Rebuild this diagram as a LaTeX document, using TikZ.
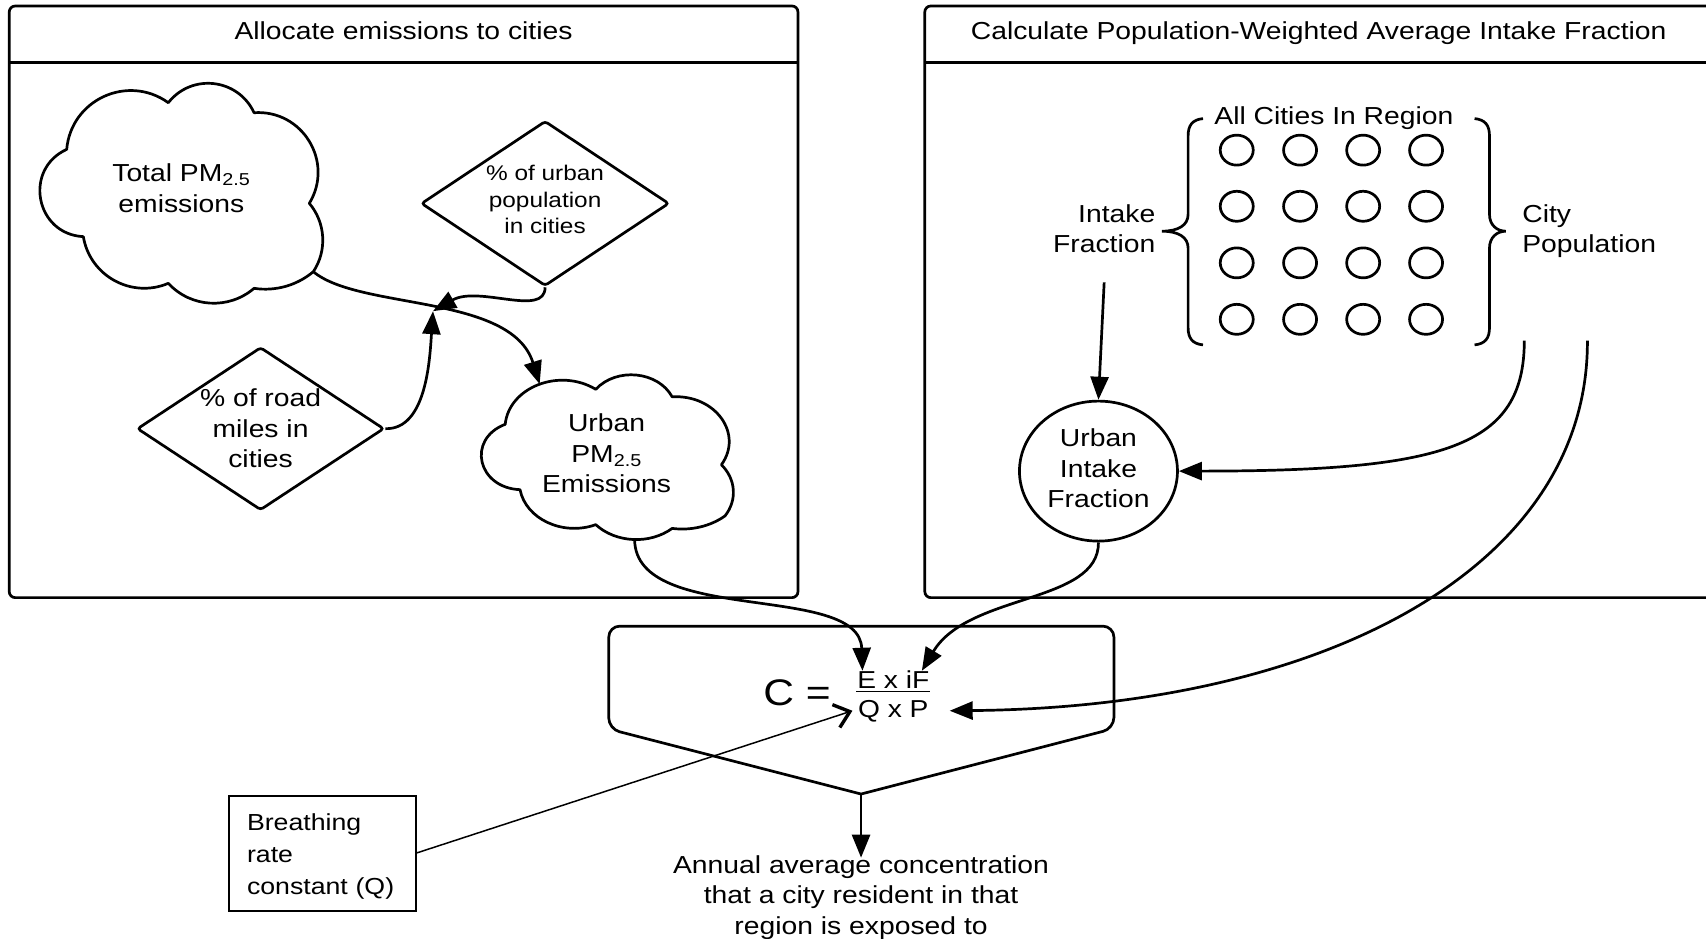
\documentclass[tikz,border=0pt]{standalone}
\usepackage{fontspec}
\setmainfont{Liberation Sans}[FakeStretch=1.15]
\usetikzlibrary{shapes.geometric,arrows.meta,calc}
\newcommand\fsz[2]{\fontsize{#1}{#2}\selectfont}
\newcommand\mycloudpath{(61.3,137.3) .. controls (65.26,91.61) and (117.47,67.63) .. (154.7,94.4)
 .. controls (176.14,67.01) and (218.94,72.01) .. (233.5,103.6)
 .. controls (277.93,100.51) and (307.39,148.81) .. (284.3,186.9)
 .. controls (299.3,204.67) and (300.81,230.3) .. (288,249.7)
 .. controls (272.91,262.4) and (253,267.99) .. (233.5,265)
 .. controls (210.3,284.93) and (175.43,282.9) .. (154.7,260.4)
 .. controls (120.99,274.74) and (82.57,253.64) .. (76.6,217.5)
 .. controls (32.61,215.28) and (21.22,155.57) .. (61.3,137.3) -- cycle}
\begin{document}
\begin{tikzpicture}[x=1.088pt,y=-1.088pt,
  every node/.style={inner sep=0pt},
  lw/.style={line width=2.7pt},
  body/.style={font=\fsz{24.6}{30.5}, align=center},
  small/.style={font=\fsz{21.2}{26.7}, align=center},
  conn/.style={line width=2.7pt, -{Triangle[length=23pt,width=18pt]}},
  panel/.style={draw, line width=2.7pt, rounded corners=6pt},
  dia/.style={draw, diamond, line width=2.7pt, rounded corners=3pt},
]
\useasboundingbox (0,0) rectangle (1568,863);

% panels
\draw[panel] (8.5,5.5) rectangle (733.4,549.3);
\draw[lw] (8.5,57.3) -- (733.4,57.3);
\node[body] (t1) at (370.9,28) {Allocate emissions to cities};
\draw[panel] (850,5.5) rectangle (1600,549.3);
\draw[lw] (850,57.3) -- (1600,57.3);
\node[body, anchor=base] (t2) at (1212,36.1) {Calculate Population-Weighted Average Intake Fraction};

% clouds (drawn outlines) and their texts
\draw[lw, line join=round] \mycloudpath;
\begin{scope}[shift={(409.71,287.1)}, xscale=0.8911, yscale=0.7493]
  \draw[lw, line join=round] \mycloudpath;
\end{scope}
\node[body] (c1) at (166.7,173.1) {Total PM\textsubscript{2.5}\\emissions};
\node[body] (c2) at (557.5,417) {Urban\\PM\textsubscript{2.5}\\Emissions};
\coordinate (c1out) at (288,249.7);
\coordinate (c2in) at (496,353);
\coordinate (c2out) at (583.3,496.5);

% diamonds
\node[dia, minimum width=248pt, minimum height=165pt,
  label={[small,yshift=3.8pt]center:{\% of urban\\population\\in cities}}] (d1) at (501,187) {};
\node[dia, minimum width=247pt, minimum height=163pt,
  label={[body]center:{\% of road\\miles in\\cities}}] (d2) at (239.5,394) {};
\coordinate (mix) at (398,286);

\draw[conn] (c1out) .. controls (330,285) and (470,270) .. (c2in);
\draw[conn] (d1.south) .. controls (501,292) and (440,262) .. (mix);
\draw[conn] (d2.east) .. controls (392,395) and (395,330) .. (mix);

% right panel
\node[body, anchor=base] (ac) at (1226,114.1) {All Cities In Region};
\foreach \x in {1136.7,1194.9,1252.9,1310.7}
  \foreach \y in {138,189.6,241.6,293.5}
    \draw[lw] (\x,\y) ellipse [x radius=16.5pt, y radius=15pt];
\draw[lw] (1105.7,109) .. controls (1096,110) and (1092,115) .. (1092,125) -- (1092,197)
  .. controls (1092,207) and (1083,212.5) .. (1068,212.5)
  .. controls (1083,212.5) and (1092,218) .. (1092,228) -- (1092,301)
  .. controls (1092,311) and (1096,316) .. (1105.7,317);
\draw[lw] (1355.3,109) .. controls (1365,110) and (1369,115) .. (1369,125) -- (1369,197)
  .. controls (1369,207) and (1376,212.5) .. (1384,212.5)
  .. controls (1376,212.5) and (1369,218) .. (1369,228) -- (1369,301)
  .. controls (1369,311) and (1365,316) .. (1355.3,317);
\node[body, align=right, anchor=east] (if) at (1062,210.4) {Intake\\Fraction};
\node[body, align=left, anchor=west] (cp) at (1399,212.4) {City\\Population};
\node[draw, ellipse, lw, minimum width=158pt, minimum height=140pt,
  label={[body,yshift=2.7pt]center:{Urban\\Intake\\Fraction}}] (e1) at (1009.6,433) {};
\coordinate (cp1) at (1401,313);
\coordinate (cp2) at (1459,313);

% formula
\draw[lw, rounded corners=11pt, line cap=round] (791.4,729.8) -- (559.5,670) -- (559.5,575.5)
  -- (1023.8,575.5) -- (1023.8,669.6) -- (791.4,729.8);
\coordinate (vt) at (791.4,729.8);
\node[anchor=base, font=\fsz{37}{37}] (ceq) at (732.5,648) {C =};
\node[anchor=base, font=\fsz{24.5}{24.5}] (num) at (821,633) {E x iF};
\node[anchor=base, font=\fsz{24.5}{24.5}] (den) at (821,659) {Q x P};
\draw[line width=1.6pt] (787,635.5) -- (855,635.5);

\node[body, anchor=north] (out) at (791.4,786) {Annual average concentration\\that a city resident in that\\region is exposed to};
\node[draw, line width=2pt, minimum width=187pt, minimum height=115pt,
  label={[font=\fsz{23.2}{32}, align=left, text width=150pt, yshift=-3.8pt]center:{Breathing\\rate\\constant (Q)}}] (br) at (296,784) {};

% connectors into formula
\draw[conn] (c2out) .. controls (585,575) and (790,535) .. ([xshift=5.4pt]num.north west);
\draw[conn] (e1.south) .. controls (1010,555) and (890,545) .. ([xshift=-7.6pt]num.north east);
\draw[conn] (cp2) .. controls (1460,520) and (1220,650) .. ([xshift=21pt]den.east);
\draw[conn] ([yshift=-29pt]if.south) -- (e1.north);
\draw[conn] (cp1) .. controls (1401,410) and (1330,433) .. (e1.east);
\draw[conn] (vt) -- ([yshift=-2.5pt]out.north);
\draw[line width=1.5pt, -{Straight Barb[length=14.5pt,width=24pt,line width=3.4pt]}] (br.east) -- ([xshift=-5.4pt]den.west);
\end{tikzpicture}
\end{document}
